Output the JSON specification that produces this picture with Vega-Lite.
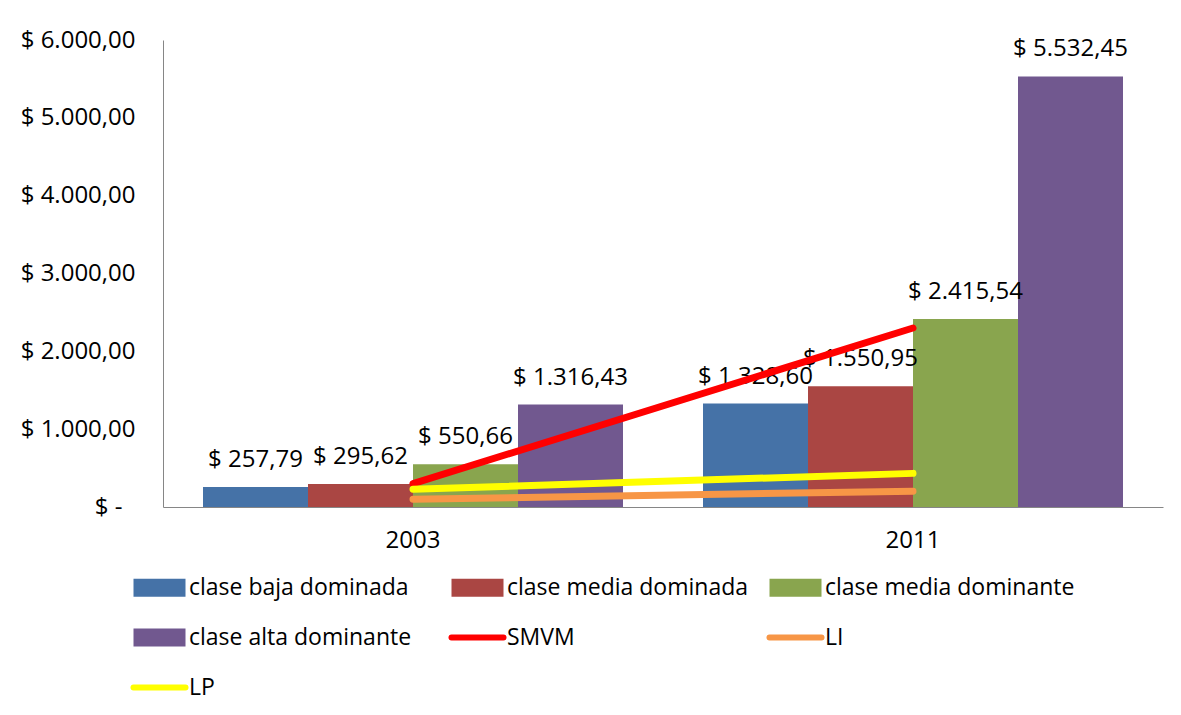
{
  "$schema": "https://vega.github.io/schema/vega-lite/v6.json",
  "width": 1000,
  "height": 467,
  "autosize": {"type": "none"},
  "padding": {"left": 163, "top": 40, "right": 18, "bottom": 208},
  "background": "white",
  "config": {
    "view": {"stroke": null},
    "font": "Open Sans",
    "axis": {"labelFont": "Open Sans", "labelFontSize": 24, "labelColor": "#000000", "domainColor": "#868686", "domainWidth": 1, "ticks": false, "grid": false}
  },
  "datasets": {
    "bars": [
      {"year": "2003", "serie": "clase baja dominada", "value": 257.79, "label": "$ 257,79"},
      {"year": "2003", "serie": "clase media dominada", "value": 295.62, "label": "$ 295,62"},
      {"year": "2003", "serie": "clase media dominante", "value": 550.66, "label": "$ 550,66"},
      {"year": "2003", "serie": "clase alta dominante", "value": 1316.43, "label": "$ 1.316,43"},
      {"year": "2011", "serie": "clase baja dominada", "value": 1328.60, "label": "$ 1.328,60"},
      {"year": "2011", "serie": "clase media dominada", "value": 1550.95, "label": "$ 1.550,95"},
      {"year": "2011", "serie": "clase media dominante", "value": 2415.54, "label": "$ 2.415,54"},
      {"year": "2011", "serie": "clase alta dominante", "value": 5532.45, "label": "$ 5.532,45"}
    ],
    "lines": [
      {"year": "2003", "serie": "SMVM", "value": 300},
      {"year": "2011", "serie": "SMVM", "value": 2300},
      {"year": "2003", "serie": "LI", "value": 100},
      {"year": "2011", "serie": "LI", "value": 203},
      {"year": "2003", "serie": "LP", "value": 228},
      {"year": "2011", "serie": "LP", "value": 432}
    ]
  },
  "encoding": {
    "x": {
      "field": "year",
      "type": "nominal",
      "scale": {"paddingInner": 0.16, "paddingOuter": 0.08},
      "axis": {"title": null, "labelAngle": 0, "labelPadding": 21}
    }
  },
  "layer": [
    {
      "data": {"name": "bars"},
      "mark": {"type": "bar"},
      "encoding": {
        "xOffset": {"field": "serie", "type": "nominal", "sort": ["clase baja dominada", "clase media dominada", "clase media dominante", "clase alta dominante"], "scale": {"paddingInner": 0, "paddingOuter": 0}},
        "y": {
          "field": "value",
          "type": "quantitative",
          "scale": {"domain": [0, 6000], "nice": false},
          "axis": {
            "title": null,
            "values": [0, 1000, 2000, 3000, 4000, 5000, 6000],
            "labelPadding": {"condition": {"test": "datum.value == 0", "value": 41}, "value": 28},
            "labelExpr": "datum.value == 0 ? '$ -' : '$ ' + replace(replace(replace(format(datum.value, ',.2f'), ',', '#'), '.', ','), '#', '.')"
          }
        },
        "color": {
          "field": "serie",
          "type": "nominal",
          "scale": {
            "domain": ["clase baja dominada", "clase media dominada", "clase media dominante", "clase alta dominante", "SMVM", "LI", "LP"],
            "range": ["#4572A7", "#AA4643", "#89A54E", "#71588F", "#FF0000", "#F79646", "#FFFF00"]
          },
          "legend": {
            "title": null,
            "orient": "none",
            "direction": "horizontal",
            "legendX": -15,
            "legendY": 536,
            "columns": 3,
            "gridAlign": "all",
            "columnPadding": 0,
            "rowPadding": 25,
            "padding": 0,
            "symbolSize": 2704,
            "labelOffset": 18,
            "labelFont": "Open Sans",
            "labelFontSize": 23,
            "labelColor": "#000000",
            "labelLimit": 400,
            "encoding": {
              "symbols": {
                "shape": {"value": {"expr": "indexof(['SMVM','LI','LP'], datum.value) >= 0 ? 'M-1,0H1' : 'M-1,-0.35H1V0.35H-1Z'"}},
                "size": {"value": 2704},
                "fill": {"value": {"expr": "indexof(['SMVM','LI','LP'], datum.value) >= 0 ? 'transparent' : scale('color', datum.value)"}},
                "stroke": {"value": {"expr": "indexof(['SMVM','LI','LP'], datum.value) >= 0 ? scale('color', datum.value) : 'transparent'"}},
                "strokeWidth": {"value": {"expr": "indexof(['SMVM','LI','LP'], datum.value) >= 0 ? 6 : 0"}},
                "strokeCap": {"value": "round"},
                "opacity": {"value": 1}
              }
            }
          }
        }
      }
    },
    {
      "data": {"name": "bars"},
      "mark": {"type": "text", "dy": -27, "font": "Open Sans", "fontSize": 24, "color": "#000000"},
      "encoding": {
        "xOffset": {"field": "serie", "type": "nominal", "sort": ["clase baja dominada", "clase media dominada", "clase media dominante", "clase alta dominante"]},
        "y": {"field": "value", "type": "quantitative"},
        "text": {"field": "label"}
      }
    },
    {
      "data": {"name": "lines"},
      "mark": {"type": "line", "strokeWidth": 7, "strokeCap": "round"},
      "encoding": {
        "y": {"field": "value", "type": "quantitative"},
        "color": {"field": "serie", "type": "nominal"}
      }
    }
  ]
}
